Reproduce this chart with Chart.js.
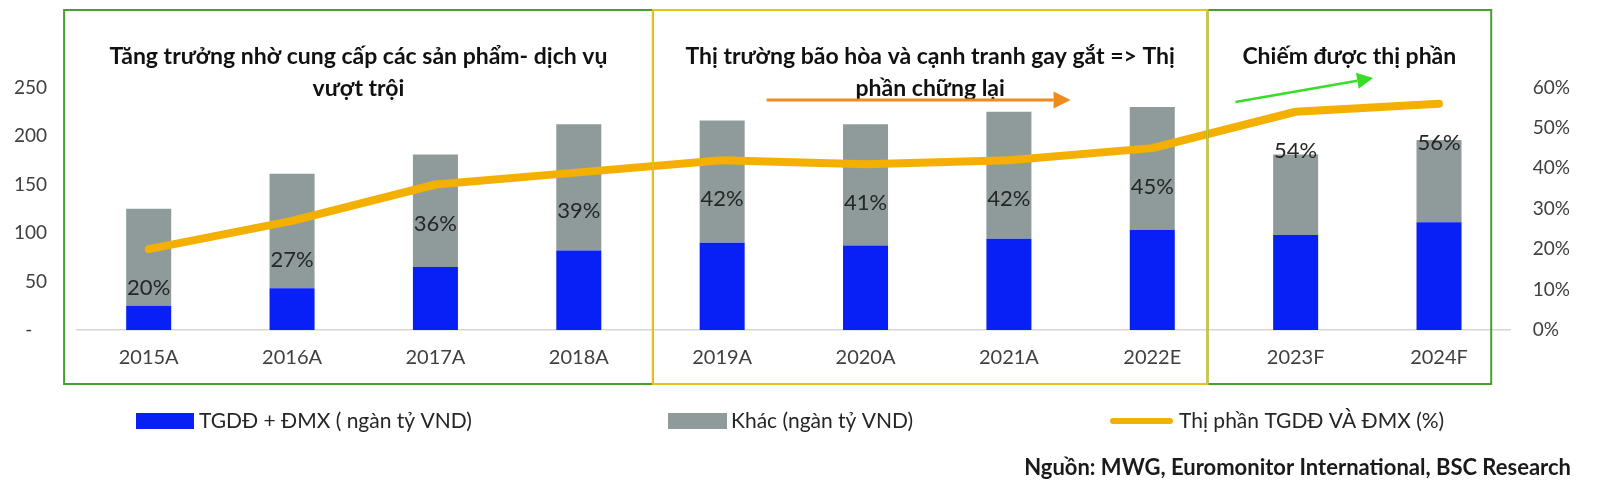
<!DOCTYPE html>
<html>
<head>
<meta charset="utf-8">
<script src="https://cdn.jsdelivr.net/npm/chart.js@4.4.1/dist/chart.umd.min.js"></script>
<style>
  html, body { margin: 0; padding: 0; background: #fff; }
  #wrap { width: 1600px; height: 493px; }
</style>
</head>
<body>
<div id="wrap"><canvas id="chart" width="1600" height="493"></canvas></div>
<script>
// data
const categories = ['2015A', '2016A', '2017A', '2018A', '2019A', '2020A', '2021A', '2022E', '2023F', '2024F'];
const tgddDmx = [25, 43, 65, 82, 90, 87, 94, 103, 98, 111];      // ngàn tỷ VND
const khac = [100, 118, 116, 130, 126, 125, 131, 127, 83, 85];     // ngàn tỷ VND
const thiPhan = [20, 27, 36, 39, 42, 41, 42, 45, 54, 56];          // %
const seriesNames = ['TGDĐ + ĐMX ( ngàn tỷ VND)', 'Khác (ngàn tỷ VND)', 'Thị phần TGDĐ VÀ ĐMX (%)'];
const leftMax = 250, leftStep = 50;
const rightMax = 60, rightStep = 10;

const phaseTitles = [
    ['Tăng trưởng nhờ cung cấp các sản phẩm- dịch vụ', 'vượt trội'],
    ['Thị trường bão hòa và cạnh tranh gay gắt => Thị', 'phần chững lại'],
    ['Chiếm được thị phần']
];
const sourceText = 'Nguồn: MWG, Euromonitor International, BSC Research';

const BLUE = '#0820F6';
const GREY = '#8E9B9A';
const GOLD = '#F4B000';
const FONT = 'Lato';

function arrow(ctx, x1, y1, x2, y2, color, width, head) {
    const ang = Math.atan2(y2 - y1, x2 - x1);
    const bx = x2 - head * Math.cos(ang), by = y2 - head * Math.sin(ang);
    ctx.save();
    ctx.strokeStyle = color;
    ctx.fillStyle = color;
    ctx.lineWidth = width;
    ctx.beginPath();
    ctx.moveTo(x1, y1);
    ctx.lineTo(bx, by);
    ctx.stroke();
    ctx.beginPath();
    ctx.moveTo(x2, y2);
    ctx.lineTo(bx + head / 2 * Math.sin(ang), by - head / 2 * Math.cos(ang));
    ctx.lineTo(bx - head / 2 * Math.sin(ang), by + head / 2 * Math.cos(ang));
    ctx.closePath();
    ctx.fill();
    ctx.restore();
}

const overlay = {
    id: 'overlay',
    afterDatasetsDraw(chart) {
        const ctx = chart.ctx;
        const meta = chart.getDatasetMeta(2);
        ctx.save();
        ctx.font = '22px ' + FONT;
        ctx.fillStyle = '#262626';
        ctx.textAlign = 'center';
        ctx.textBaseline = 'middle';
        meta.data.forEach((pt, i) => {
            ctx.fillText(thiPhan[i] + '%', pt.x, pt.y + 39);
        });
        ctx.restore();
    },
    afterDraw(chart) {
        const ctx = chart.ctx;
        const x = chart.scales.x;
        const top = 10, bottom = 384;
        const edges = [-0.59, 3.517, 7.385, 9.364].map(v => x.getPixelForValue(v));

        // phase frames
        ctx.save();
        ctx.lineWidth = 2;
        ctx.strokeStyle = '#45A02E';
        ctx.strokeRect(edges[0], top, edges[1] - edges[0], bottom - top);
        ctx.strokeRect(edges[2], top, edges[3] - edges[2], bottom - top);
        ctx.strokeStyle = '#E6C21C';
        ctx.strokeRect(edges[1], top, edges[2] - edges[1], bottom - top);

        // phase titles
        ctx.fillStyle = '#111';
        ctx.font = 'bold 23px ' + FONT;
        ctx.textAlign = 'center';
        ctx.textBaseline = 'middle';
        phaseTitles.forEach((lines, i) => {
            const cx = (edges[i] + edges[i + 1]) / 2;
            lines.forEach((t, j) => ctx.fillText(t, cx, 57 + j * 32));
        });
        ctx.restore();

        // arrows
        arrow(ctx, x.getPixelForValue(4.31), 100, x.getPixelForValue(6.43), 100, '#EE8A1E', 3, 17);
        arrow(ctx, x.getPixelForValue(7.58), 102, x.getPixelForValue(8.54), 78, '#38DD2A', 2.5, 16);

        // legend
        ctx.save();
        ctx.textAlign = 'left';
        ctx.textBaseline = 'middle';
        const ly = 421;
        ctx.fillStyle = BLUE;
        ctx.fillRect(136, ly - 8, 58, 16);
        ctx.fillStyle = GREY;
        ctx.fillRect(668, ly - 8, 59, 16);
        ctx.strokeStyle = GOLD;
        ctx.lineWidth = 6;
        ctx.lineCap = 'round';
        ctx.beginPath();
        ctx.moveTo(1113, ly);
        ctx.lineTo(1170, ly);
        ctx.stroke();
        ctx.font = '21px ' + FONT;
        ctx.fillStyle = '#262626';
        ctx.fillText(seriesNames[0], 199, ly);
        ctx.fillText(seriesNames[1], 731, ly);
        ctx.fillText(seriesNames[2], 1179, ly);

        // source
        ctx.font = 'bold 22px ' + FONT;
        ctx.fillStyle = '#1a1a1a';
        ctx.textAlign = 'right';
        ctx.fillText(sourceText, 1571, 468);
        ctx.restore();
    }
};

const ctx = document.getElementById('chart').getContext('2d');
new Chart(ctx, {
    type: 'bar',
    data: {
        labels: categories,
        datasets: [
            {
                label: seriesNames[0],
                data: tgddDmx,
                backgroundColor: BLUE,
                yAxisID: 'y',
                order: 1,
                barPercentage: 0.314,
                categoryPercentage: 1
            },
            {
                label: seriesNames[1],
                data: khac,
                backgroundColor: GREY,
                yAxisID: 'y',
                order: 1,
                barPercentage: 0.314,
                categoryPercentage: 1
            },
            {
                type: 'line',
                label: seriesNames[2],
                data: thiPhan,
                borderColor: GOLD,
                backgroundColor: GOLD,
                borderWidth: 8,
                borderCapStyle: 'round',
                borderJoinStyle: 'round',
                pointRadius: 0,
                tension: 0,
                yAxisID: 'y1',
                order: 0
            }
        ]
    },
    options: {
        responsive: false,
        animation: false,
        devicePixelRatio: 1,
        layout: { padding: { top: 87.5, bottom: 123, left: 0, right: 0 } },
        plugins: {
            legend: { display: false },
            tooltip: { enabled: false }
        },
        scales: {
            x: {
                stacked: true,
                grid: { display: false, drawTicks: false },
                border: { display: true, color: '#D6D6D6', width: 1.5 },
                ticks: { color: '#404040', font: { family: FONT, size: 20 }, padding: 16 },
                afterFit: (s) => { s.height = 40; }
            },
            y: {
                stacked: true,
                position: 'left',
                min: 0,
                max: leftMax,
                grid: { display: false, drawTicks: false },
                border: { display: false },
                ticks: {
                    stepSize: leftStep,
                    color: '#404040',
                    font: { family: FONT, size: 19 },
                    padding: 30,
                    callback: (v) => v === 0 ? '-   ' : v
                },
                afterFit: (s) => { s.width = 77; }
            },
            y1: {
                position: 'right',
                min: 0,
                max: rightMax,
                grid: { display: false, drawTicks: false },
                border: { display: false },
                ticks: {
                    stepSize: rightStep,
                    color: '#404040',
                    font: { family: FONT, size: 19 },
                    padding: 22,
                    callback: (v) => v + '%'
                },
                afterFit: (s) => { s.width = 89.3; }
            }
        }
    },
    plugins: [overlay]
});
</script>
</body>
</html>
